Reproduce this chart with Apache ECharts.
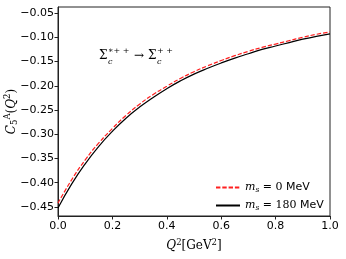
<!DOCTYPE html>
<html>
<head>
<meta charset="utf-8">
<script src="https://cdn.jsdelivr.net/npm/echarts@6/dist/echarts.min.js"></script>
<style>
html,body{margin:0;padding:0;background:#fff;}
#chart{width:346px;height:259px;}
</style>
</head>
<body>
<div id="chart"></div>
<script>
// Data
const q2 = [0, 0.05, 0.1, 0.15, 0.2, 0.25, 0.3, 0.35, 0.4, 0.45, 0.5, 0.55, 0.6, 0.65, 0.7, 0.75, 0.8, 0.85, 0.9, 0.95, 1.0];
const c5a_ms180 = [-0.452, -0.403, -0.361, -0.325, -0.294, -0.267, -0.244, -0.224, -0.206, -0.190, -0.176, -0.164, -0.153, -0.143, -0.134, -0.125, -0.118, -0.111, -0.104, -0.098, -0.093];
const c5a_ms0   = [-0.442, -0.394, -0.353, -0.318, -0.288, -0.261, -0.238, -0.218, -0.201, -0.185, -0.171, -0.159, -0.148, -0.138, -0.129, -0.121, -0.114, -0.107, -0.100, -0.094, -0.089];
const yTicks = [-0.45, -0.40, -0.35, -0.30, -0.25, -0.20, -0.15, -0.10, -0.05];
const xTicks = [0.0, 0.2, 0.4, 0.6, 0.8, 1.0];
const seriesNames = ['m_s = 0 MeV', 'm_s = 180 MeV'];

const chart = echarts.init(document.getElementById('chart'), null, {renderer: 'canvas'});
const tickFont = {fontFamily: 'DejaVu Sans', fontSize: 11, color: '#000'};
const serif = 'DejaVu Serif';

const option = {
  animation: false,
  backgroundColor: '#fff',
  grid: {left: 58, right: 16, top: 7, bottom: 43, show: true, borderColor: '#222', borderWidth: 1, containLabel: false, outerBoundsMode: 'none'},
  xAxis: {
    type: 'value', min: 0, max: 1, interval: 0.2,
    axisLine: {show: true, onZero: false, lineStyle: {color: '#222', width: 1}},
    axisTick: {show: true, length: 3.5, lineStyle: {color: '#222'}},
    splitLine: {show: false},
    axisLabel: Object.assign({margin: 5, formatter: v => v.toFixed(1)}, tickFont),
    name: '{i|Q}{s|2}{n|[GeV}{s|2}{n|]}',
    nameLocation: 'middle', nameGap: 22, nameMoveOverlap: false,
    nameTextStyle: {rich: {
      i: {fontFamily: serif, fontStyle: 'italic', fontSize: 12, color: '#000'},
      n: {fontFamily: serif, fontSize: 12, color: '#000'},
      s: {fontFamily: serif, fontSize: 8.5, color: '#000', padding: [0,0,7,0]}
    }}
  },
  yAxis: {
    type: 'value', min: -0.4686, max: -0.0376,
    axisLine: {show: true, onZero: false, lineStyle: {color: '#222', width: 1}},
    axisTick: {show: true, length: 3.5, customValues: yTicks, lineStyle: {color: '#222'}},
    splitLine: {show: false},
    axisLabel: Object.assign({margin: 4, customValues: yTicks, formatter: v => (v < 0 ? '\u2212' : '') + Math.abs(v).toFixed(2)}, tickFont),
    name: '{i|C}{sb|5}{sp|A}{n|(}{i|Q}{sp|2}{n|)}',
    nameLocation: 'middle', nameGap: 38, nameRotate: 90, nameMoveOverlap: false,
    nameTextStyle: {rich: {
      i: {fontFamily: serif, fontStyle: 'italic', fontSize: 12, color: '#000'},
      n: {fontFamily: serif, fontSize: 12, color: '#000'},
      sb: {fontFamily: serif, fontSize: 8.5, color: '#000', padding: [7,0,0,0]},
      sp: {fontFamily: serif, fontSize: 8.5, color: '#000', padding: [0,0,8,0]}
    }}
  },
  legend: {
    orient: 'vertical', left: 210, top: 177, itemWidth: 24, itemHeight: 10, itemGap: 6,
    data: seriesNames,
    itemStyle: {opacity: 0},
    formatter: name => name === seriesNames[0] ? '{i|m}{sb|s}{n| = 0 }{t|MeV}' : '{i|m}{sb|s}{n| = 180 }{t|MeV}',
    textStyle: {rich: {
      i: {fontFamily: serif, fontStyle: 'italic', fontSize: 11, color: '#000'},
      n: {fontFamily: serif, fontSize: 11, color: '#000'},
      sb: {fontFamily: serif, fontStyle: 'italic', fontSize: 7.5, color: '#000', padding: [5,0,0,0]},
      t: {fontFamily: 'DejaVu Sans', fontSize: 11, color: '#000'}
    }}
  },
  series: [
    {name: seriesNames[0], type: 'line', symbol: 'none', z: 3,
     data: q2.map((x, i) => [x, c5a_ms0[i]]), smooth: true,
     lineStyle: {color: '#ff2020', width: 1.2, type: [4.4, 1.9]}, itemStyle: {color: '#ff2020'}},
    {name: seriesNames[1], type: 'line', symbol: 'none', z: 2,
     data: q2.map((x, i) => [x, c5a_ms180[i]]), smooth: true,
     lineStyle: {color: '#000', width: 1.2}, itemStyle: {color: '#000'}}
  ],
  graphic: [
    {type: 'text', left: 99, top: 50, style: {text: '\u03A3', fontFamily: serif, fontSize: 12, fill: '#000'}},
    {type: 'text', left: 108, top: 47, style: {text: '\u2217+ +', fontFamily: serif, fontSize: 8, fill: '#000'}},
    {type: 'text', left: 108, top: 58, style: {text: 'c', fontFamily: serif, fontStyle: 'italic', fontSize: 8, fill: '#000'}},
    {type: 'text', left: 134, top: 50, style: {text: '\u2192', fontFamily: serif, fontSize: 12, fill: '#000'}},
    {type: 'text', left: 148, top: 50, style: {text: '\u03A3', fontFamily: serif, fontSize: 12, fill: '#000'}},
    {type: 'text', left: 157, top: 47, style: {text: '+ +', fontFamily: serif, fontSize: 8, fill: '#000'}},
    {type: 'text', left: 157, top: 58, style: {text: 'c', fontFamily: serif, fontStyle: 'italic', fontSize: 8, fill: '#000'}}
  ]
};
chart.setOption(option);
</script>
</body>
</html>
